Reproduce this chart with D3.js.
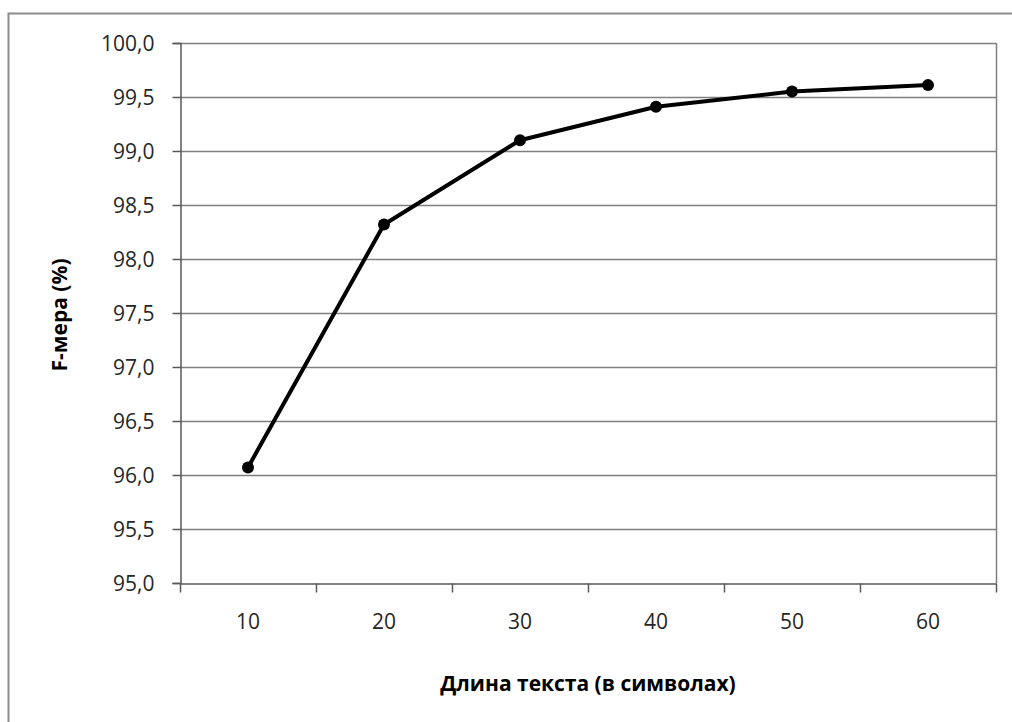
<!DOCTYPE html>
<html>
<head>
<meta charset="utf-8">
<script src="https://cdn.jsdelivr.net/npm/d3@7"></script>
<style>
    body { margin: 0; background: #fff; }
    svg { display: block; font-family: "Open Sans", sans-serif; }
</style>
</head>
<body>
<svg id="chart" width="1012" height="722"></svg>
<script>
// Данные: длина текста и F-мера
const categories = ['10', '20', '30', '40', '50', '60'];
const fValues = [96.07, 98.32, 99.10, 99.41, 99.55, 99.61];
const yTicks = [95, 95.5, 96, 96.5, 97, 97.5, 98, 98.5, 99, 99.5, 100];

const svg = d3.select('#chart');

// Рамка вокруг диаграммы
svg.append('rect')
    .attr('x', 8.5).attr('y', 13.5)
    .attr('width', 1100).attr('height', 800)
    .attr('fill', 'none')
    .attr('stroke', '#8c8c8c')
    .attr('stroke-width', 2);

const plot = { left: 180, right: 996, top: 43, bottom: 583 };

const x = d3.scaleBand()
    .domain(categories)
    .range([plot.left, plot.right]);

const y = d3.scaleLinear()
    .domain([95, 100])
    .range([plot.bottom, plot.top]);

const fmt = d => d3.format('.1f')(d).replace('.', ',');

// Сетка
svg.append('g')
    .selectAll('line')
    .data(yTicks.slice(1))
    .join('line')
    .attr('x1', plot.left).attr('x2', plot.right)
    .attr('y1', d => Math.round(y(d)) + 0.5)
    .attr('y2', d => Math.round(y(d)) + 0.5)
    .attr('stroke', '#7f7f7f')
    .attr('stroke-width', 1.5);

// Правая граница области построения
svg.append('line')
    .attr('x1', plot.right + 0.5).attr('x2', plot.right + 0.5)
    .attr('y1', plot.top).attr('y2', plot.bottom)
    .attr('stroke', '#7f7f7f')
    .attr('stroke-width', 1.5);

// Ось Y
const yAxis = svg.append('g')
    .attr('transform', `translate(${plot.left + 0.5},0)`)
    .call(d3.axisLeft(y).tickValues(yTicks).tickFormat(fmt).tickSize(8).tickPadding(18));

// Ось X
const xAxis = svg.append('g')
    .attr('transform', `translate(0,${plot.bottom + 0.5})`)
    .call(d3.axisBottom(x).tickSize(0).tickPadding(31));

// Деления между категориями
xAxis.selectAll('.sep')
    .data(d3.range(categories.length + 1))
    .join('line')
    .attr('class', 'sep')
    .attr('x1', i => Math.round(plot.left + i * x.step()) + 0.5)
    .attr('x2', i => Math.round(plot.left + i * x.step()) + 0.5)
    .attr('y1', 0).attr('y2', 9)
    .attr('stroke', '#595959')
    .attr('stroke-width', 1.5);

[yAxis, xAxis].forEach(a => {
    a.attr('font-size', null).attr('font-family', null);
    a.select('.domain').attr('stroke', '#595959').attr('stroke-width', 1.5);
    a.selectAll('.tick line').attr('stroke', '#595959').attr('stroke-width', 1.5);
    a.selectAll('text')
        .attr('font-size', 21)
        .attr('fill', '#262626')
        .attr('font-family', '"Open Sans", sans-serif');
});
yAxis.selectAll('text').attr('dy', '0.35em');

// Подписи осей
svg.append('text')
    .attr('x', 588).attr('y', 691)
    .attr('text-anchor', 'middle')
    .attr('font-size', 21)
    .attr('font-weight', 'bold')
    .attr('fill', '#000')
    .text('Длина текста (в символах)');

svg.append('text')
    .attr('transform', 'translate(67,315) rotate(-90)')
    .attr('text-anchor', 'middle')
    .attr('font-size', 21)
    .attr('font-weight', 'bold')
    .attr('fill', '#000')
    .text('F-мера (%)');

// Линия
const line = d3.line()
    .x((d, i) => x(categories[i]) + x.bandwidth() / 2)
    .y(d => y(d));

svg.append('path')
    .datum(fValues)
    .attr('d', line)
    .attr('fill', 'none')
    .attr('stroke', '#000')
    .attr('stroke-width', 4)
    .attr('stroke-linejoin', 'round');

svg.append('g')
    .selectAll('circle')
    .data(fValues)
    .join('circle')
    .attr('cx', (d, i) => x(categories[i]) + x.bandwidth() / 2)
    .attr('cy', d => y(d))
    .attr('r', 6)
    .attr('fill', '#000');
</script>
</body>
</html>
